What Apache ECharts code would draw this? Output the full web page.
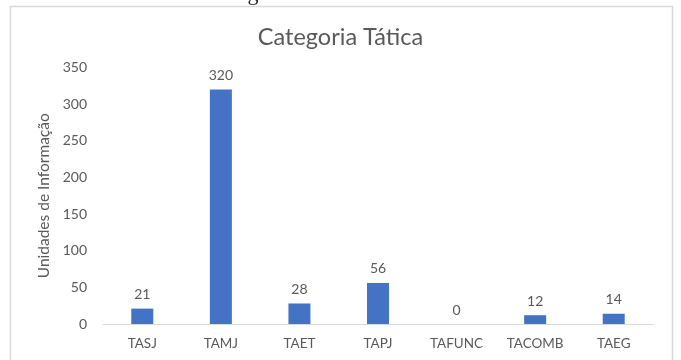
<!DOCTYPE html>
<html><head><meta charset="utf-8">
<script src="https://cdn.jsdelivr.net/npm/echarts@6/dist/echarts.min.js"></script>
<style>html,body{margin:0;padding:0;background:#fff}#c{width:681px;height:360px}</style>
</head><body><div id="c"></div>
<script>
const categories = ['TASJ','TAMJ','TAET','TAPJ','TAFUNC','TACOMB','TAEG'];
const values = [21, 320, 28, 56, 0, 12, 14];
const yTicks = [0, 50, 100, 150, 200, 250, 300, 350];
const chartTitle = 'Categoria Tática';
const yName = 'Unidades de Informação';
const captionText = 'Tabela abreviada da Categoria Tática';

const chart = echarts.init(document.getElementById('c'), null, {renderer:'canvas'});
const font = 'Lato, "Open Sans", sans-serif';
chart.setOption({
  animation: false,
  backgroundColor: '#fff',
  title: {
    text: chartTitle, left: 'center', top: 20,
    textStyle: {fontFamily: font, fontSize: 23.5, fontWeight: 'normal', color: '#595959'}
  },
  graphic: [
    {type:'rect', shape:{x:10.5, y:6.5, width:662, height:400}, style:{fill:'none', stroke:'#d9d9d9', lineWidth:1.5}, silent:true},
    {type:'text', left: 26, top: -17, style:{text: captionText, font: '22px "Liberation Serif", serif', fill:'#222'}, silent:true}
  ],
  grid: {left: 103, right: 28, top: 67.5, bottom: 36, containLabel: false},
  xAxis: {
    type: 'category', data: categories,
    axisLine: {lineStyle: {color: '#d9d9d9', width: 1}},
    axisTick: {show: false},
    axisLabel: {fontFamily: font, fontSize: 13.5, color: '#595959', margin: 13}
  },
  yAxis: {
    type: 'value', min: yTicks[0], max: yTicks[yTicks.length-1], interval: 50,
    name: yName, nameLocation: 'middle', nameGap: 50, nameRotate: 90,
    nameTextStyle: {fontFamily: font, fontSize: 15.5, color: '#595959'},
    axisLine: {show: false}, axisTick: {show: false},
    splitLine: {show: false},
    axisLabel: {fontFamily: font, fontSize: 14, color: '#595959', margin: 16}
  },
  series: [{
    type: 'bar', data: values, barWidth: 22,
    itemStyle: {color: '#4472C4'},
    label: {show: true, position: 'top', distance: 7, fontFamily: font, fontSize: 14, color: '#595959'}
  }]
});
</script></body></html>
